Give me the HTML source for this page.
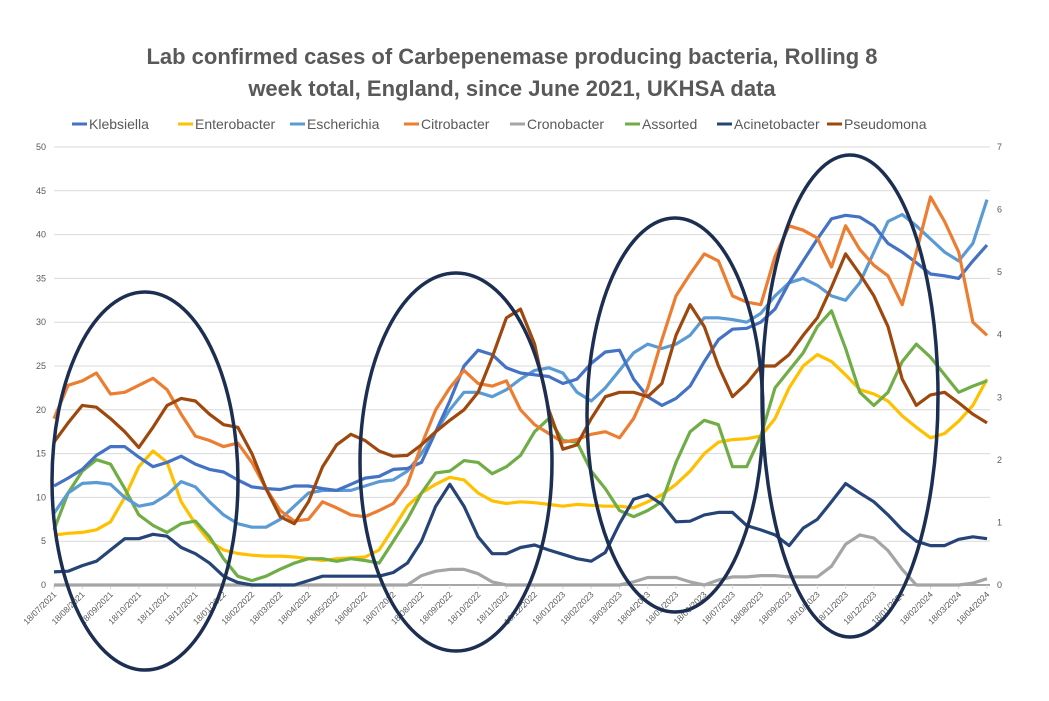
<!DOCTYPE html>
<html><head><meta charset="utf-8"><style>
body{margin:0;background:#fff;width:1049px;height:696px;overflow:hidden;font-family:"Liberation Sans",sans-serif}
</style></head><body>
<svg id="chart" width="1049" height="696" xmlns="http://www.w3.org/2000/svg" style="font-family:'Liberation Sans',sans-serif">
<text x="512" y="64" text-anchor="middle" font-size="22" font-weight="bold" fill="#595959">Lab confirmed cases of Carbepenemase producing bacteria, Rolling 8</text>
<text x="512" y="96" text-anchor="middle" font-size="22" font-weight="bold" fill="#595959">week total, England, since June 2021, UKHSA data</text>
<g id="legend"></g>
<g id="grid"></g>
<g id="series"></g>
<g id="annot"></g>
</svg>
<script>
const ticksLeft=[0,5,10,15,20,25,30,35,40,45,50];
const ticksRight=[0,1,2,3,4,5,6,7];
const xLabels=["18/07/2021","18/08/2021","18/09/2021","18/10/2021","18/11/2021","18/12/2021","18/01/2022","18/02/2022","18/03/2022","18/04/2022","18/05/2022","18/06/2022","18/07/2022","18/08/2022","18/09/2022","18/10/2022","18/11/2022","18/12/2022","18/01/2023","18/02/2023","18/03/2023","18/04/2023","18/05/2023","18/06/2023","18/07/2023","18/08/2023","18/09/2023","18/10/2023","18/11/2023","18/12/2023","18/01/2024","18/02/2024","18/03/2024","18/04/2024"];
const names=["Klebsiella","Enterobacter","Escherichia","Citrobacter","Cronobacter","Assorted","Acinetobacter","Pseudomona"];
const klebsiella=[11.3,12.2,13.2,14.8,15.8,15.8,14.6,13.5,14,14.7,13.8,13.2,12.9,12,11.2,11,10.9,11.3,11.3,11,10.8,11.5,12.2,12.4,13.2,13.3,14,17.5,21,25,26.8,26.3,24.8,24.2,24,23.8,23,23.5,25.3,26.6,26.8,23.5,21.5,20.5,21.3,22.7,25.5,28,29.2,29.3,30,31.5,34.5,37,39.5,41.8,42.2,42,41,39,38,36.8,35.5,35.3,35,37,38.8];
const enterobacter=[5.7,5.9,6,6.3,7.2,10,13.5,15.3,14,9.5,7,5,4,3.6,3.4,3.3,3.3,3.2,3,2.8,3,3.1,3.2,4,6.5,9,10.5,11.5,12.3,12,10.5,9.6,9.3,9.5,9.4,9.2,9,9.2,9.1,9,9,8.8,9.5,10.3,11.5,13,15,16.3,16.6,16.7,17,19,22.5,25,26.3,25.5,24,22.3,21.8,21,19.3,18,16.8,17.3,18.7,20.5,23.5];
const escherichia=[8.2,10.5,11.6,11.7,11.5,10,9,9.3,10.3,11.8,11.2,9.5,8,7,6.6,6.6,7.5,9,10.5,10.8,10.8,10.8,11.3,11.8,12,13,15,17.5,20,22,22,21.5,22.3,23.5,24.5,24.8,24.2,22,21,22.5,24.5,26.5,27.5,27,27.5,28.5,30.5,30.5,30.3,30,31,33,34.5,35,34.2,33,32.5,34.5,38,41.5,42.3,41,39.5,38,37,39,44];
const citrobacter=[19,22.8,23.3,24.2,21.8,22,22.8,23.6,22.3,19.5,17,16.5,15.8,16.2,14,11,8.5,7.3,7.5,9.5,8.8,8,7.8,8.5,9.3,11.5,16,20,22.5,24.5,23,22.7,23.3,20,18.3,17.3,16.3,16.6,17.2,17.5,16.8,19,22.5,28,33,35.5,37.8,37,33,32.3,32,37.5,41,40.5,39.6,36.3,41,38.3,36.5,35.3,32,38,44.3,41.5,38,30,28.5];
const cronobacter=[0,0,0,0,0,0,0,0,0,0,0,0,0,0,0,0,0,0,0,0,0,0,0,0,0,0,0.15,0.22,0.25,0.25,0.18,0.05,0,0,0,0,0,0,0,0,0,0.05,0.12,0.12,0.12,0.05,0,0.08,0.13,0.13,0.15,0.15,0.13,0.13,0.13,0.3,0.65,0.8,0.75,0.55,0.25,0,0,0,0,0.03,0.1];
const assorted=[6.3,10.5,13,14.3,13.8,11,8,6.8,6,7,7.3,5.5,3,1,0.5,1,1.8,2.5,3,3,2.7,3,2.8,2.5,5,7.5,10.5,12.8,13,14.2,14,12.7,13.5,14.8,17.5,19,16.5,16.3,13,11,8.5,7.8,8.5,9.5,14,17.5,18.8,18.3,13.5,13.5,17,22.5,24.5,26.5,29.5,31.3,27,22,20.5,22,25.5,27.5,26,24,22,22.7,23.3];
const acinetobacter=[0.21,0.22,0.31,0.38,0.56,0.74,0.74,0.81,0.78,0.6,0.5,0.35,0.14,0.04,0,0,0,0,0.07,0.14,0.14,0.14,0.14,0.14,0.2,0.35,0.7,1.26,1.61,1.26,0.77,0.5,0.5,0.6,0.64,0.56,0.49,0.42,0.38,0.52,0.98,1.37,1.44,1.29,1.01,1.02,1.12,1.16,1.16,0.95,0.88,0.8,0.63,0.91,1.05,1.33,1.62,1.47,1.33,1.12,0.88,0.7,0.63,0.63,0.73,0.77,0.74];
const pseudomona=[16.3,18.5,20.5,20.3,19,17.5,15.7,18,20.5,21.3,21,19.5,18.3,18,15,11,7.8,7,9.5,13.5,16,17.2,16.5,15.3,14.7,14.8,16,17.5,18.8,20,22,26,30.5,31.5,27.5,20,15.5,16,19,21.5,22,22,21.5,23,28.5,32,29.5,25,21.5,23,25,25,26.3,28.5,30.5,34,37.8,35.5,33,29.5,23.5,20.5,21.7,22,20.8,19.5,18.5];

const NS="http://www.w3.org/2000/svg";
const X0=54,X1=987,Y0=585,YT=147,GR=990;
const xPos=i=>X0+(X1-X0)*i/66;           // half-month index
const xMonth=m=>X0+(X1-X0)*m/33;
const yL=v=>Y0-(Y0-YT)*v/50;
const yR=v=>Y0-(Y0-YT)*v/7;
function mk(tag,attrs,parent){const e=document.createElementNS(NS,tag);for(const k in attrs)e.setAttribute(k,attrs[k]);parent.appendChild(e);return e;}
const grid=document.getElementById('grid');
ticksLeft.forEach(t=>{
  const l=mk('line',{x1:X0,x2:GR,y1:yL(t),y2:yL(t),stroke:t===0?'#a6a6a6':'#d9d9d9','stroke-width':t===0?2:1},grid);
  
  
  const tx=mk('text',{x:46,y:yL(t)+3,'text-anchor':'end','font-size':9,fill:'#595959'},grid);
  tx.textContent=t;
  
  
});
ticksRight.forEach(t=>{
  const tx=mk('text',{x:997,y:yR(t)+3,'font-size':9,fill:'#595959'},grid);
  tx.textContent=t;
  
  
});
xLabels.forEach((lab,m)=>{
  const x=xMonth(m);
  mk('line',{x1:x,x2:x,y1:Y0,y2:Y0+4,stroke:'#d9d9d9'},grid);
  const tx=mk('text',{x:x+3,y:Y0+10,'text-anchor':'end','font-size':8.5,fill:'#595959',transform:`rotate(-45 ${x+3} ${Y0+10})`},grid);
  tx.textContent=lab;
  
  
});
const seriesDefs=[
 [klebsiella,'#4472c4',yL],[enterobacter,'#ffc000',yL],[escherichia,'#5b9bd5',yL],[citrobacter,'#ed7d31',yL],
 [cronobacter,'#a5a5a5',yR],[assorted,'#70ad47',yL],[acinetobacter,'#264478',yR],[pseudomona,'#9e480e',yL]];
const drawOrder=[4,1,5,2,0,3,7,6];
const sg=document.getElementById('series');
drawOrder.forEach(si=>{
  const [vals,col,yf]=seriesDefs[si];
  const d=vals.map((v,i)=>(i?'L':'M')+xPos(i).toFixed(1)+' '+yf(v).toFixed(1)).join(' ');
  const p=mk('path',{d:d,fill:'none',stroke:col,'stroke-width':3.2,'stroke-linejoin':'round'},sg);
  
  
});
const lg=document.getElementById('legend');
const legX=[72,178,290,404,510,625,717,827];
names.forEach((n,i)=>{
  mk('line',{x1:legX[i],x2:legX[i]+15,y1:124,y2:124,stroke:seriesDefs[i][1],'stroke-width':3},lg);
  const t=mk('text',{x:legX[i]+17,y:129,'font-size':14,fill:'#595959'},lg);
  t.textContent=n;
  
  
});
const ag=document.getElementById('annot');
[[145,481,93,189],[456,462,96,189],[675,415,88,197],[850,396,88,241]].forEach((e,i)=>{
  const el=mk('ellipse',{cx:e[0],cy:e[1],rx:e[2],ry:e[3],fill:'none',stroke:'#1c2f52','stroke-width':3.5},ag);
  
  
});
</script>
</body></html>
